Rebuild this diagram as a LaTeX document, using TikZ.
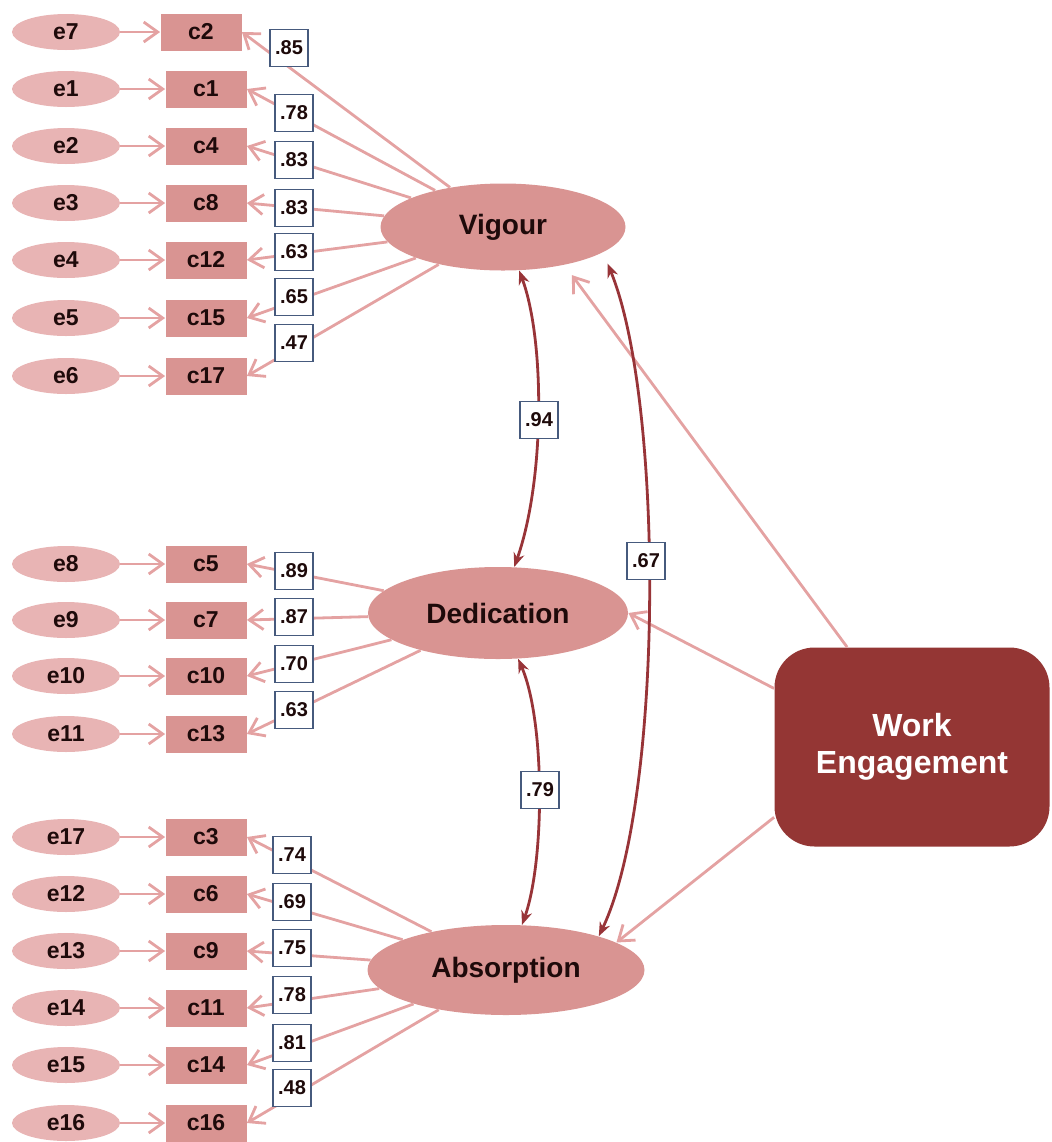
\documentclass[tikz,border=0pt]{standalone}
\usepackage{fontspec}
\setmainfont{Liberation Sans}
\usetikzlibrary{arrows.meta,shapes.geometric,calc}
\definecolor{errfill}{RGB}{232,180,180}
\definecolor{obsfill}{RGB}{217,148,146}
\definecolor{latfill}{RGB}{217,148,146}
\definecolor{pathcol}{RGB}{228,162,162}
\definecolor{covcol}{RGB}{152,52,56}
\definecolor{wefill}{RGB}{148,54,52}
\definecolor{lblframe}{RGB}{70,90,125}
\definecolor{ink}{RGB}{30,10,10}
\begin{document}
\begin{tikzpicture}[x=0.5pt,y=-0.5pt,
  errnode/.style={ellipse, fill=errfill, minimum width=54pt, minimum height=18pt, inner sep=0pt,
    font=\fontsize{11.5}{13}\selectfont\bfseries, text=ink},
  obsnode/.style={rectangle, fill=obsfill, minimum width=40.5pt, minimum height=18.5pt, inner sep=0pt,
    font=\fontsize{11.5}{13}\selectfont\bfseries, text=ink},
  latnode/.style={ellipse, fill=latfill, inner sep=0pt,
    font=\fontsize{14}{16}\selectfont\bfseries, text=ink},
  coef/.style={rectangle, fill=white, draw=lblframe, line width=0.6pt, minimum width=19pt,
    minimum height=18.5pt, inner sep=0pt, font=\fontsize{10}{11}\selectfont\bfseries, text=ink},
  pathline/.style={draw=pathcol, line width=1.4pt, -{Straight Barb[length=7pt,width=10pt]}},
  cov/.style={draw=covcol, line width=1.4pt,
    {Stealth[length=7pt,width=5.5pt]}-{Stealth[length=7pt,width=5.5pt]}},
]
\useasboundingbox (0,0) rectangle (1052,1142);

% latent factors
\node[latnode, minimum width=122.5pt, minimum height=43.5pt] (vig) at (503,227) {Vigour};
\node[latnode, minimum width=130pt, minimum height=46pt] (ded) at (498,613) {Dedication};
\node[latnode, minimum width=138.5pt, minimum height=45pt] (abs) at (506,970) {Absorption};

% second-order factor
\node[rectangle, rounded corners=20pt, fill=wefill, minimum width=137.5pt, minimum height=99.5pt,
  text=white, align=center, font=\fontsize{16}{18.5}\selectfont\bfseries] (we) at (912,747)
  {Work\\Engagement};

% Vigour indicators
\foreach \e/\c/\y/\cx in {e7/c2/32/201, e1/c1/89/206, e2/c4/146/206, e3/c8/203/206,
                          e4/c12/260/206, e5/c15/318/206, e6/c17/376/206}{
  \node[errnode] (\e) at (66,\y) {\e};
  \node[obsnode] (\c) at (\cx,\y) {\c};
  \draw[pathline] (\e) -- (\c);
  \draw[pathline] (vig) -- (\c.east);
}
% Dedication indicators
\foreach \e/\c/\y in {e8/c5/564, e9/c7/620, e10/c10/676, e11/c13/734}{
  \node[errnode] (\e) at (66,\y) {\e};
  \node[obsnode] (\c) at (206,\y) {\c};
  \draw[pathline] (\e) -- (\c);
  \draw[pathline] (ded) -- (\c.east);
}
% Absorption indicators
\foreach \e/\c/\y in {e17/c3/837, e12/c6/894, e13/c9/951, e14/c11/1008, e15/c14/1065, e16/c16/1123}{
  \node[errnode] (\e) at (66,\y) {\e};
  \node[obsnode] (\c) at (206,\y) {\c};
  \draw[pathline] (\e) -- (\c);
  \draw[pathline] (abs) -- (\c.east);
}

% second-order paths
\draw[pathline] (we.123) -- ([xshift=6.5pt,yshift=-4.5pt]vig.-35.6);
\draw[pathline] (we.157.4) -- (ded.east);
\draw[pathline] (we.207.7) -- (abs.14);

% factor correlations
\draw[cov] (vig) .. controls (545,340) and (545,480) .. (ded);
\draw[cov] (ded) .. controls (545,720) and (545,860) .. (abs);
\draw[cov] ([xshift=8pt,yshift=-3pt]vig.-19) .. controls (664,400) and (664,800) .. (abs.20);

% loading values
\foreach \v/\x/\y in {.85/289/48, .78/294/113, .83/294/160, .83/294/208, .63/294/252, .65/294/297,
                      .47/294/343,
                      .89/294/571, .87/294/617, .70/294/664, .63/294/710,
                      .74/292/855, .69/292/902, .75/292/948, .78/292/995, .81/292/1043, .48/292/1088}{
  \node[coef] at (\x,\y) {\v};
}
% correlation values
\node[coef] (r1) at (539,420) {.94};
\node[coef] (r2) at (540,790) {.79};
\node[coef] (r3) at (646,561) {.67};
\end{tikzpicture}
\end{document}
